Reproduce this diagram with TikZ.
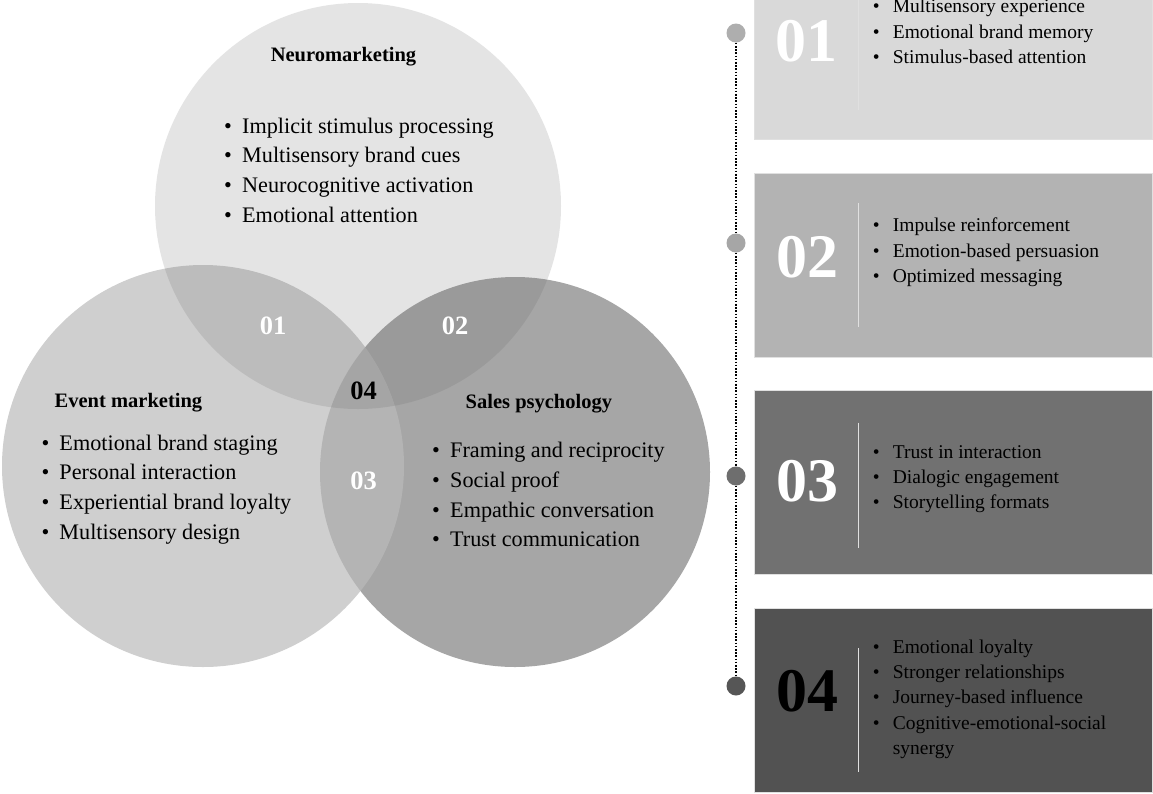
\documentclass[tikz,border=0pt]{standalone}
\usepackage{fontspec}
\setmainfont{Liberation Serif}
\newcommand{\vbul}{\makebox[18pt][l]{\textbullet}}
\newcommand{\bbul}{\makebox[20pt][l]{\textbullet}}
\begin{document}
\begin{tikzpicture}[x=1pt,y=-1pt,
  venn/.style={circle, inner sep=0pt, draw=none},
  vtitle/.style={font=\fontsize{20.5}{24}\selectfont\bfseries, inner sep=0pt},
  vlist/.style={font=\fontsize{22.2}{29.7}\selectfont, anchor=base west, inner sep=0pt},
  vnum/.style={font=\fontsize{26.5}{30}\selectfont\bfseries, anchor=base, inner sep=0pt},
  infobox/.style={rectangle, inner sep=0pt, minimum width=398, minimum height=184, draw=black!12, line width=0.8pt},
  bnum/.style={font=\fontsize{62}{62}\selectfont\bfseries, anchor=base, inner sep=0pt},
  blist/.style={font=\fontsize{19.5}{25.3}\selectfont, anchor=base west, inner sep=0pt},
  sepline/.style={draw=white!88!black, line width=1pt},
  tdot/.style={circle, minimum size=19, inner sep=0pt, draw=none},
  timeline/.style={draw=black, line width=1.8pt, dash pattern=on 1.6pt off 1.6pt}
]
\clip (0,0) rectangle (1153,793);
\fill[white] (0,0) rectangle (1153,793);

% Venn circles
\node[venn, fill={rgb,255:red,166;green,166;blue,166}, minimum size=390] (sales) at (515,472) {};
\node[venn, fill={rgb,255:red,187;green,187;blue,187}, fill opacity=0.7, minimum size=402] (event) at (203,466) {};
\node[venn, fill={rgb,255:red,92;green,92;blue,92}, fill opacity=0.16, minimum size=406] (neuro) at (358,206) {};

% Venn titles
\node[vtitle, anchor=base] (tneuro) at (343.5,61.7) {Neuromarketing};
\node[vtitle, anchor=base west] (tevent) at (54.5,407) {Event marketing};
\node[vtitle, anchor=base west] (tsales) at (465.5,408) {Sales psychology};

% Venn lists
\node[vlist] (lneuro) at (224,133) {\begin{tabular}[t]{@{}l@{}}
\vbul Implicit stimulus processing\\
\vbul Multisensory brand cues\\
\vbul Neurocognitive activation\\
\vbul Emotional attention
\end{tabular}};
\node[vlist] (levent) at (41.3,450) {\begin{tabular}[t]{@{}l@{}}
\vbul Emotional brand staging\\
\vbul Personal interaction\\
\vbul Experiential brand loyalty\\
\vbul Multisensory design
\end{tabular}};
\node[vlist] (lsales) at (432,457.7) {\begin{tabular}[t]{@{}l@{}}
\vbul Framing and reciprocity\\
\vbul Social proof\\
\vbul Empathic conversation\\
\vbul Trust communication
\end{tabular}};

% Venn numbers
\node[vnum, text=white] (n01) at (273,334) {01};
\node[vnum, text=white] (n02) at (455,334) {02};
\node[vnum, text=black] (n04) at (363.5,399) {04};
\node[vnum, text=white] (n03) at (363.5,489.3) {03};

% Timeline dots and line
\node[tdot, fill={rgb,255:red,174;green,174;blue,174}] (d1) at (736,33) {};
\node[tdot, fill={rgb,255:red,166;green,166;blue,166}] (d2) at (736,243) {};
\node[tdot, fill={rgb,255:red,110;green,110;blue,110}] (d3) at (736,476) {};
\node[tdot, fill={rgb,255:red,86;green,86;blue,86}] (d4) at (736,686) {};
\draw[timeline] (d1) -- (d2);
\draw[timeline] (d2) -- (d3);
\draw[timeline] (d3) -- (d4);

% Boxes
\node[infobox, fill={rgb,255:red,217;green,217;blue,217}] (b1) at (953,47) {};
\node[infobox, fill={rgb,255:red,179;green,179;blue,179}] (b2) at (953,265) {};
\node[infobox, fill={rgb,255:red,113;green,113;blue,113}] (b3) at (953,482.5) {};
\node[infobox, fill={rgb,255:red,82;green,82;blue,82}] (b4) at (953,700) {};

% separators
\draw[sepline] ([xshift=-95pt,yshift=62pt]b1.center) -- ([xshift=-95pt,yshift=-63pt]b1.center);
\draw[sepline] ([xshift=-95pt,yshift=62pt]b2.center) -- ([xshift=-95pt,yshift=-62pt]b2.center);
\draw[sepline] ([xshift=-95pt,yshift=60pt]b3.center) -- ([xshift=-95pt,yshift=-65pt]b3.center);
\draw[sepline] ([xshift=-95pt,yshift=52pt]b4.center) -- ([xshift=-95pt,yshift=-72pt]b4.center);

% box numbers
\node[bnum, text=white] (bn1) at (806,61) {01};
\node[bnum, text=white] (bn2) at (807,277.3) {02};
\node[bnum, text=white] (bn3) at (807,501.7) {03};
\node[bnum, text=black] (bn4) at (807,711.7) {04};

% box lists
\node[blist] (bl1) at (872.7,12.7) {\begin{tabular}[t]{@{}l@{}}
\bbul Multisensory experience\\
\bbul Emotional brand memory\\
\bbul Stimulus-based attention
\end{tabular}};
\node[blist] (bl2) at (872.7,231.7) {\begin{tabular}[t]{@{}l@{}}
\bbul Impulse reinforcement\\
\bbul Emotion-based persuasion\\
\bbul Optimized messaging
\end{tabular}};
\node[blist] (bl3) at (872.7,458.3) {\begin{tabular}[t]{@{}l@{}}
\bbul Trust in interaction\\
\bbul Dialogic engagement\\
\bbul Storytelling formats
\end{tabular}};
\node[blist] (bl4) at (872.7,653.3) {\begin{tabular}[t]{@{}l@{}}
\bbul Emotional loyalty\\
\bbul Stronger relationships\\
\bbul Journey-based influence\\
\bbul Cognitive-emotional-social\\
\hspace{20pt}synergy
\end{tabular}};
\end{tikzpicture}
\end{document}
